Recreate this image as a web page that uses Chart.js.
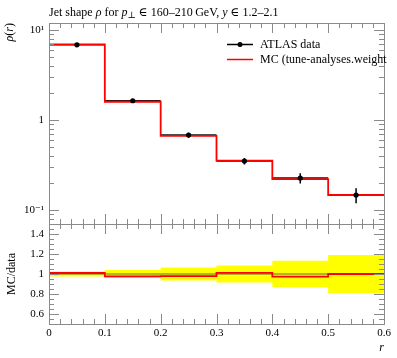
<!DOCTYPE html>
<html><head><meta charset="utf-8">
<script src="https://cdn.jsdelivr.net/npm/chart.js@4/dist/chart.umd.min.js"></script>
<style>
html,body{margin:0;padding:0;background:#fff;}
#wrap{position:relative;width:397px;height:358px;background:#fff;}
canvas{position:absolute;left:0;top:0;}
</style></head><body>
<div id="wrap"><canvas id="cTop" width="397" height="358"></canvas><canvas id="cBot" width="397" height="358"></canvas></div>
<script>
// ---- data ----
const binEdges = [0, 0.1, 0.2, 0.3, 0.4, 0.5, 0.6];
const binCenters = [0.05, 0.15, 0.25, 0.35, 0.45, 0.55];
const dataValues = [6.87, 1.64, 0.681, 0.350, 0.227, 0.147];
const dataErrors = [0.17, 0.066, 0.044, 0.030, 0.030, 0.028];
const mcValues = [6.94, 1.60, 0.667, 0.354, 0.221, 0.147];
const xTickValues = [0, 0.1, 0.2, 0.3, 0.4, 0.5, 0.6];
const xTickLabels = ['0', '0.1', '0.2', '0.3', '0.4', '0.5', '0.6'];
const yTickValues = [0.1, 1, 10];
const yTickLabels = ['10\u207B\u00B9', '1', '10\u00B9'];
const ratioTickValues = [0.6, 0.8, 1, 1.2, 1.4];
const ratioTickLabels = ['0.6', '0.8', '1', '1.2', '1.4'];
const legendLabels = ['ATLAS data', 'MC (tune-analyses.weight'];

const FONT = "'Liberation Serif', 'DejaVu Serif', serif";
const FRAME = '#8a8a8a';
const RED = '#ff0000';
const n = dataValues.length;

function stepPts(vals) { return binEdges.map((x, i) => ({x, y: vals[Math.min(i, vals.length - 1)]})); }
const ratioVals = mcValues.map((v, i) => v / dataValues[i]);
const dataRatio = dataValues.map((v, i) => v / dataValues[i]);
const bandHi = dataValues.map((v, i) => 1 + dataErrors[i] / v);
const bandLo = dataValues.map((v, i) => 1 - dataErrors[i] / v);

function drawRich(ctx, parts, x, y) {
  let cx = x;
  for (const p of parts) {
    ctx.font = p.f;
    ctx.fillText(p.t, cx, y + (p.dy || 0));
    cx += ctx.measureText(p.t).width;
  }
  return cx;
}
function richWidth(ctx, parts) {
  let w = 0;
  for (const p of parts) { ctx.font = p.f; w += ctx.measureText(p.t).width; }
  return w;
}

function drawXTicks(ctx, xs, area, top, bottom) {
  ctx.strokeStyle = FRAME; ctx.lineWidth = 1;
  ctx.beginPath();
  for (let k = 0; k <= 30; k++) {
    const v = k * 0.02;
    const px = Math.round(xs.getPixelForValue(v)) + 0.5;
    const len = (k % 5 === 0) ? 10 : 5;
    if (top) { ctx.moveTo(px, area.top); ctx.lineTo(px, area.top + len); }
    if (bottom) { ctx.moveTo(px, area.bottom); ctx.lineTo(px, area.bottom - len); }
  }
  ctx.stroke();
}
function drawYTicks(ctx, ys, area, list) {
  ctx.strokeStyle = FRAME; ctx.lineWidth = 1;
  ctx.beginPath();
  for (const t of list) {
    const py = Math.round(ys.getPixelForValue(t.v)) + 0.5;
    if (py < area.top - 0.1 || py > area.bottom + 0.6) continue;
    ctx.moveTo(area.left, py); ctx.lineTo(area.left + t.len, py);
    ctx.moveTo(area.right, py); ctx.lineTo(area.right - t.len, py);
  }
  ctx.stroke();
}
function drawFrame(ctx, area) {
  ctx.strokeStyle = FRAME; ctx.lineWidth = 1;
  ctx.strokeRect(Math.round(area.left) + 0.5, Math.round(area.top) + 0.5,
    Math.round(area.right - area.left), Math.round(area.bottom - area.top));
}

// ---- top panel ----
const topPlugin = {
  id: 'topDecor',
  beforeDatasetsDraw(chart) {
    const ctx = chart.ctx, xs = chart.scales.x, ys = chart.scales.y;
    ctx.save();
    ctx.strokeStyle = '#111'; ctx.lineWidth = 1.5;
    ctx.beginPath();
    for (let i = 0; i < n; i++) {
      const py = ys.getPixelForValue(dataValues[i]);
      ctx.moveTo(xs.getPixelForValue(binEdges[i]), py);
      ctx.lineTo(xs.getPixelForValue(binEdges[i + 1]), py);
    }
    ctx.stroke();
    ctx.restore();
  },
  afterDatasetsDraw(chart) {
    const ctx = chart.ctx, xs = chart.scales.x, ys = chart.scales.y, a = chart.chartArea;
    ctx.save();
    ctx.strokeStyle = '#000'; ctx.lineWidth = 1.5;
    ctx.beginPath();
    for (let i = 0; i < n; i++) {
      const px = xs.getPixelForValue(binCenters[i]);
      ctx.moveTo(px, ys.getPixelForValue(dataValues[i] + dataErrors[i]));
      ctx.lineTo(px, ys.getPixelForValue(dataValues[i] - dataErrors[i]));
    }
    ctx.stroke();
    // ticks
    drawXTicks(ctx, xs, a, true, true);
    const yt = [];
    for (let d = 0.01; d <= 10; d *= 10) {
      for (let m = 1; m <= 9; m++) yt.push({v: m * d, len: m === 1 ? 10 : 5});
    }
    drawYTicks(ctx, ys, a, yt);
    drawFrame(ctx, a);
    // title
    ctx.fillStyle = '#000'; ctx.textBaseline = 'alphabetic'; ctx.textAlign = 'left';
    const N = '12px ' + FONT, I = 'italic 12px ' + FONT, S = '9px ' + FONT;
    drawRich(ctx, [
      {t: 'Jet shape ', f: N}, {t: '\u03C1', f: I}, {t: ' for ', f: N}, {t: 'p', f: I},
      {t: '\u22A5', f: S, dy: 2}, {t: ' \u2208 160\u2013210\u2009GeV, ', f: N}, {t: 'y', f: I},
      {t: ' \u2208 1.2\u20132.1', f: N}], 49, 16);
    // y label
    ctx.save();
    ctx.translate(13, 23);
    ctx.rotate(-Math.PI / 2);
    const lab = [{t: '\u03C1', f: I}, {t: '(', f: N}, {t: 'r', f: I}, {t: ')', f: N}];
    drawRich(ctx, lab, -richWidth(ctx, lab), 0);
    ctx.restore();
    // legend
    ctx.font = N; ctx.textBaseline = 'middle';
    ctx.strokeStyle = '#000'; ctx.lineWidth = 1.5;
    ctx.beginPath(); ctx.moveTo(227, 44.5); ctx.lineTo(253, 44.5); ctx.stroke();
    ctx.beginPath(); ctx.arc(240, 44.5, 2.5, 0, Math.PI * 2); ctx.fill();
    ctx.fillText(legendLabels[0], 260, 45);
    ctx.strokeStyle = RED; ctx.lineWidth = 1.5;
    ctx.beginPath(); ctx.moveTo(227, 59.5); ctx.lineTo(253, 59.5); ctx.stroke();
    ctx.fillText(legendLabels[1], 260, 60);
    ctx.restore();
  }
};

new Chart(document.getElementById('cTop'), {
  type: 'line',
  data: {
    datasets: [
      {type: 'scatter', data: binCenters.map((x, i) => ({x, y: dataValues[i]})), pointRadius: 2.6,
        pointBackgroundColor: '#000', pointBorderWidth: 0, showLine: false, order: 0},
      {data: stepPts(mcValues), stepped: true, borderColor: RED, borderWidth: 1.8, pointRadius: 0,
        fill: false, order: 1}
    ]
  },
  options: {
    responsive: false, animation: false, events: [],
    layout: {padding: {left: 0, top: 23, right: 13, bottom: 134}},
    plugins: {legend: {display: false}, tooltip: {enabled: false}, title: {display: false}},
    scales: {
      x: {type: 'linear', min: 0, max: 0.6, display: false},
      y: {type: 'logarithmic', min: 0.07, max: 12, bounds: 'data',
        afterFit: s => { s.width = 49; },
        afterBuildTicks: s => { s.ticks = yTickValues.map(v => ({value: v})); },
        grid: {display: false, drawTicks: false}, border: {display: false},
        ticks: {autoSkip: false, padding: 5, color: '#000', font: {family: FONT, size: 11},
          callback: (v, i) => yTickLabels[i]}}
    }
  },
  plugins: [topPlugin]
});

// ---- ratio panel ----
const botPlugin = {
  id: 'botDecor',
  afterDatasetsDraw(chart) {
    const ctx = chart.ctx, xs = chart.scales.x, ys = chart.scales.y, a = chart.chartArea;
    ctx.save();
    drawXTicks(ctx, xs, a, true, true);
    const yt = [];
    for (let k = 10; k <= 30; k++) yt.push({v: k * 0.05, len: (k % 4 === 0) ? 10 : 5});
    drawYTicks(ctx, ys, a, yt);
    drawFrame(ctx, a);
    ctx.fillStyle = '#000';
    const N = '12px ' + FONT, I = 'italic 12px ' + FONT;
    ctx.save();
    ctx.translate(15, (a.top + a.bottom) / 2);
    ctx.rotate(-Math.PI / 2);
    ctx.font = N; ctx.textAlign = 'center'; ctx.textBaseline = 'alphabetic';
    ctx.fillText('MC/data', 0, 0);
    ctx.restore();
    ctx.font = I; ctx.textAlign = 'right'; ctx.textBaseline = 'alphabetic';
    ctx.fillText('r', a.right, 351);
    ctx.restore();
  }
};

new Chart(document.getElementById('cBot'), {
  type: 'line',
  data: {
    datasets: [
      {data: stepPts(bandHi), stepped: true, borderWidth: 0, pointRadius: 0, fill: '+1',
        backgroundColor: '#ffff00', borderColor: 'rgba(0,0,0,0)', order: 4},
      {data: stepPts(bandLo), stepped: true, borderWidth: 0, pointRadius: 0, fill: false,
        borderColor: 'rgba(0,0,0,0)', order: 3},
      {data: stepPts(dataRatio), stepped: true, borderWidth: 1.2, pointRadius: 0, fill: false,
        borderColor: '#6b6b40', order: 2},
      {data: stepPts(ratioVals), stepped: true, borderWidth: 1.8, pointRadius: 0, fill: false,
        borderColor: RED, order: 1}
    ]
  },
  options: {
    responsive: false, animation: false, events: [],
    layout: {padding: {left: 0, top: 224, right: 13, bottom: 10}},
    plugins: {legend: {display: false}, tooltip: {enabled: false}, title: {display: false}},
    scales: {
      x: {type: 'linear', min: 0, max: 0.6,
        afterFit: s => { s.height = 24; },
        afterBuildTicks: s => { s.ticks = xTickValues.map(v => ({value: v})); },
        grid: {display: false, drawTicks: false}, border: {display: false},
        ticks: {autoSkip: false, maxRotation: 0, padding: 3, color: '#000', font: {family: FONT, size: 11},
          callback: (v, i) => xTickLabels[i]}},
      y: {type: 'linear', min: 0.5, max: 1.5,
        afterFit: s => { s.width = 49; },
        afterBuildTicks: s => { s.ticks = ratioTickValues.map(v => ({value: v})); },
        grid: {display: false, drawTicks: false}, border: {display: false},
        ticks: {autoSkip: false, padding: 5, color: '#000', font: {family: FONT, size: 11},
          callback: (v, i) => ratioTickLabels[i]}}
    }
  },
  plugins: [botPlugin]
});
</script>
</body></html>
